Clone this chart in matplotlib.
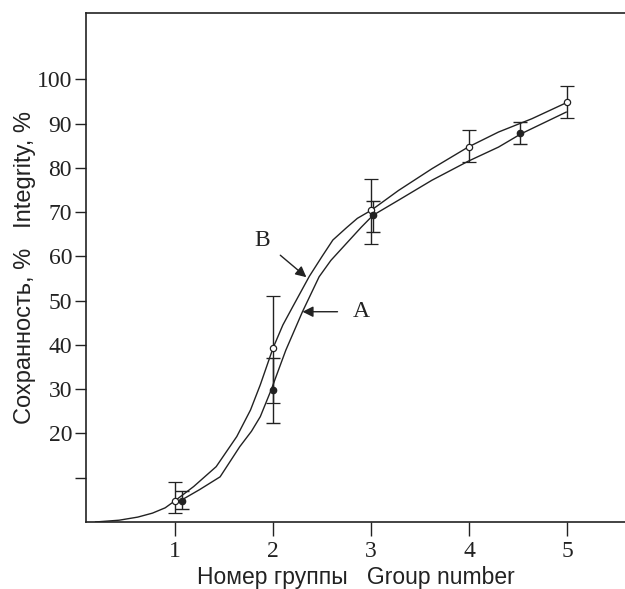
import matplotlib
matplotlib.use('Agg')
from matplotlib import pyplot as plt

# fitted curves
b_curve_x = [0.19, 0.43, 0.62, 0.77, 0.90, 1.0, 1.19, 1.42, 1.63, 1.77, 1.87, 2.0, 2.1, 2.2, 2.37, 2.5, 2.61, 2.75, 2.86, 3.0, 3.28, 3.62, 3.99, 4.30, 4.64, 4.99]
b_curve_y = [0.0, 0.4, 1.1, 2.0, 3.2, 4.8, 8.0, 12.5, 19.3, 25.3, 31.0, 39.3, 44.5, 48.6, 55.5, 60.0, 63.7, 66.5, 68.6, 70.4, 74.9, 79.8, 84.7, 88.1, 91.1, 94.7]

a_curve_x = [1.07, 1.25, 1.46, 1.66, 1.78, 1.87, 1.98, 2.13, 2.30, 2.47, 2.59, 2.78, 2.90, 3.02, 3.28, 3.62, 3.99, 4.30, 4.53, 4.99]
a_curve_y = [5.0, 7.3, 10.2, 17.0, 20.5, 23.8, 29.8, 38.8, 47.5, 55.4, 59.1, 63.7, 66.6, 69.3, 72.7, 77.2, 81.5, 84.7, 87.7, 92.6]

# measured points with error bars
b_x = [1.0, 2.0, 3.0, 4.0, 5.0]
b_y = [4.8, 39.3, 70.4, 84.7, 94.8]
b_lo = [2.0, 26.9, 62.7, 81.3, 91.2]
b_hi = [9.1, 51.0, 77.4, 88.5, 98.4]

a_x = [1.07, 2.0, 3.02, 4.52]
a_y = [4.8, 29.8, 69.3, 87.8]
a_lo = [2.9, 22.3, 65.4, 85.3]
a_hi = [7.1, 37.1, 72.5, 90.3]

ink = '#222222'

fig = plt.figure(figsize=(6.25, 5.89), dpi=100)
ax = fig.add_axes([0.1376, 0.1138, 0.8624, 0.8642])

ax.plot(b_curve_x, b_curve_y, color=ink, lw=1.0)
ax.plot(a_curve_x, a_curve_y, color=ink, lw=1.0)

b_err = [[y - l for y, l in zip(b_y, b_lo)], [h - y for y, h in zip(b_y, b_hi)]]
a_err = [[y - l for y, l in zip(a_y, a_lo)], [h - y for y, h in zip(a_y, a_hi)]]
ax.errorbar(b_x, b_y, yerr=b_err, fmt='o', ms=4.5, mfc='white', mec=ink, mew=0.9,
            ecolor=ink, elinewidth=1.0, capsize=5, capthick=1.0)
ax.errorbar(a_x, a_y, yerr=a_err, fmt='o', ms=4.5, mfc=ink, mec=ink,
            ecolor=ink, elinewidth=1.0, capsize=5, capthick=1.0)

ax.annotate('B', xy=(2.34, 55.3), xytext=(1.89, 63.7), fontsize=17,
            family='Liberation Serif', ha='center', va='center', color=ink,
            arrowprops=dict(arrowstyle='-|>', color=ink, lw=1.0, mutation_scale=16,
                            shrinkA=7, shrinkB=0))
ax.annotate('A', xy=(2.30, 47.5), xytext=(2.90, 47.5), fontsize=17,
            family='Liberation Serif', ha='center', va='center', color=ink,
            arrowprops=dict(arrowstyle='-|>', color=ink, lw=1.0, mutation_scale=16,
                            shrinkA=9, shrinkB=0))

ax.set_xlim(0.092, 5.59)
ax.set_ylim(0, 115)
ax.set_xticks([1, 2, 3, 4, 5])
ax.set_yticks([10, 20, 30, 40, 50, 60, 70, 80, 90, 100])
ax.set_yticklabels(['', '20', '30', '40', '50', '60', '70', '80', '90', '100'])

for lab in ax.get_xticklabels() + ax.get_yticklabels():
    lab.set_family('Liberation Serif')
    lab.set_fontsize(17)
    lab.set_color(ink)

ax.tick_params(axis='x', direction='out', length=10, width=1.0, color=ink, pad=4)
ax.tick_params(axis='y', direction='out', length=8, width=1.0, color=ink, pad=2)

ax.spines['right'].set_visible(False)
for s in ['left', 'top', 'bottom']:
    ax.spines[s].set_color(ink)
    ax.spines[s].set_linewidth(1.2)

ax.set_xlabel('Номер группы   Group number', family='Liberation Sans', fontsize=16.5,
              color=ink, labelpad=2.5)
ax.set_ylabel('Сохранность, %   Integrity, %', family='Liberation Sans', fontsize=17,
              color=ink)
ax.yaxis.set_label_coords(-0.093, 0.5)

fig.savefig('out.png', dpi=100)
